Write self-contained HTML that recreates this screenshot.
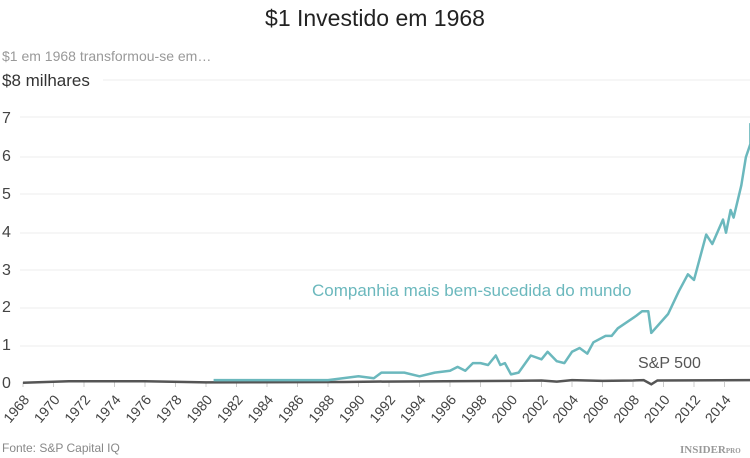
<!DOCTYPE html>
<html><head><meta charset="utf-8"><style>
body{margin:0;background:#fff;}
svg{display:block;font-family:"Liberation Sans",sans-serif;}
</style></head><body>
<svg id="s" width="750" height="458" xmlns="http://www.w3.org/2000/svg">
<text x="375" y="26" font-size="23" text-anchor="middle" fill="#222">$1 Investido em 1968</text>
<text x="2" y="61" font-size="14" fill="#999">$1 em 1968 transformou-se em…</text>
<text x="2" y="86" font-size="17" fill="#333">$8 milhares</text>
<g fill="#444" font-size="16">
<text x="2" y="123">7</text><text x="2" y="161">6</text><text x="2" y="199">5</text>
<text x="2" y="237">4</text><text x="2" y="275">3</text><text x="2" y="312">2</text>
<text x="2" y="350">1</text><text x="2" y="388">0</text></g>
<g stroke="#ececec" stroke-width="1">
<line x1="103" x2="750" y1="80" y2="80"/><line x1="20" x2="750" y1="117" y2="117"/>
<line x1="20" x2="750" y1="157" y2="157"/><line x1="20" x2="750" y1="194" y2="194"/>
<line x1="20" x2="750" y1="233" y2="233"/><line x1="20" x2="750" y1="270" y2="270"/>
<line x1="20" x2="750" y1="308" y2="308"/><line x1="20" x2="750" y1="346" y2="346"/>
</g>
<g id="ticks" stroke="#ccc"></g>
<g id="lbl" fill="#444" font-size="14"></g>
<polyline id="sp" fill="none" stroke="#555" stroke-width="2.5"/>
<polyline id="co" fill="none" stroke="#6bb8bd" stroke-width="2.5" stroke-linejoin="round"/>
<text x="312" y="296" font-size="17" fill="#6bb8bd">Companhia mais bem-sucedida do mundo</text>
<text x="638" y="368" font-size="16" fill="#555">S&amp;P 500</text>
<text x="2" y="452" font-size="12" fill="#888">Fonte: S&amp;P Capital IQ</text>
<text x="680" y="453" font-size="11" font-family="Liberation Serif" font-weight="bold" fill="#999">INSIDER<tspan font-size="7">PRO</tspan></text>
</svg>
<script>
var X=function(y){return 23+15.25*(y-1968)},Y=function(v){return 382-37.8*v};
var ns="http://www.w3.org/2000/svg",t=document.getElementById('ticks'),l=document.getElementById('lbl');
for(var y=1968;y<=2014;y+=2){var a=document.createElementNS(ns,'line');a.setAttribute('x1',X(y));a.setAttribute('x2',X(y));a.setAttribute('y1',382);a.setAttribute('y2',387);t.appendChild(a);
var tx=document.createElementNS(ns,'text');tx.textContent=y;tx.setAttribute('text-anchor','end');tx.setAttribute('transform','translate('+(X(y)+7)+',400) rotate(-50)');l.appendChild(tx);}
var co=[[1980.5,.05],[1988,.05],[1990,.15],[1991,.1],[1991.5,.25],[1993,.25],[1994,.15],[1995,.25],[1996,.3],[1996.5,.4],[1997,.3],[1997.5,.5],[1998,.5],[1998.5,.45],[1999,.7],[1999.3,.45],[1999.6,.5],[2000,.2],[2000.5,.25],[2001.3,.7],[2002,.6],[2002.4,.8],[2003,.55],[2003.5,.5],[2004,.8],[2004.5,.9],[2005,.75],[2005.4,1.05],[2006.2,1.22],[2006.6,1.22],[2007,1.42],[2008.2,1.75],[2008.6,1.87],[2009,1.87],[2009.2,1.3],[2010.3,1.8],[2011,2.4],[2011.6,2.85],[2012,2.7],[2012.8,3.9],[2013.2,3.65],[2013.9,4.3],[2014.1,3.95],[2014.4,4.55],[2014.6,4.35],[2015.1,5.2],[2015.4,5.95],[2015.7,6.3],[2015.7,6.85]];
var sp=[[1968,-.02],[1971,.02],[1976,.02],[1980,-.01],[1989,.0],[1991,.01],[2000,.03],[2002,.04],[2003,.01],[2004,.05],[2006,.03],[2008,.04],[2008.7,.05],[2009.2,-.06],[2009.6,.04],[2015.7,.05]];
function p(a){return a.map(function(q){return X(q[0]).toFixed(1)+','+Y(q[1]).toFixed(1)}).join(' ')}
document.getElementById('co').setAttribute('points',p(co));
document.getElementById('sp').setAttribute('points',p(sp));
</script>
</body></html>
